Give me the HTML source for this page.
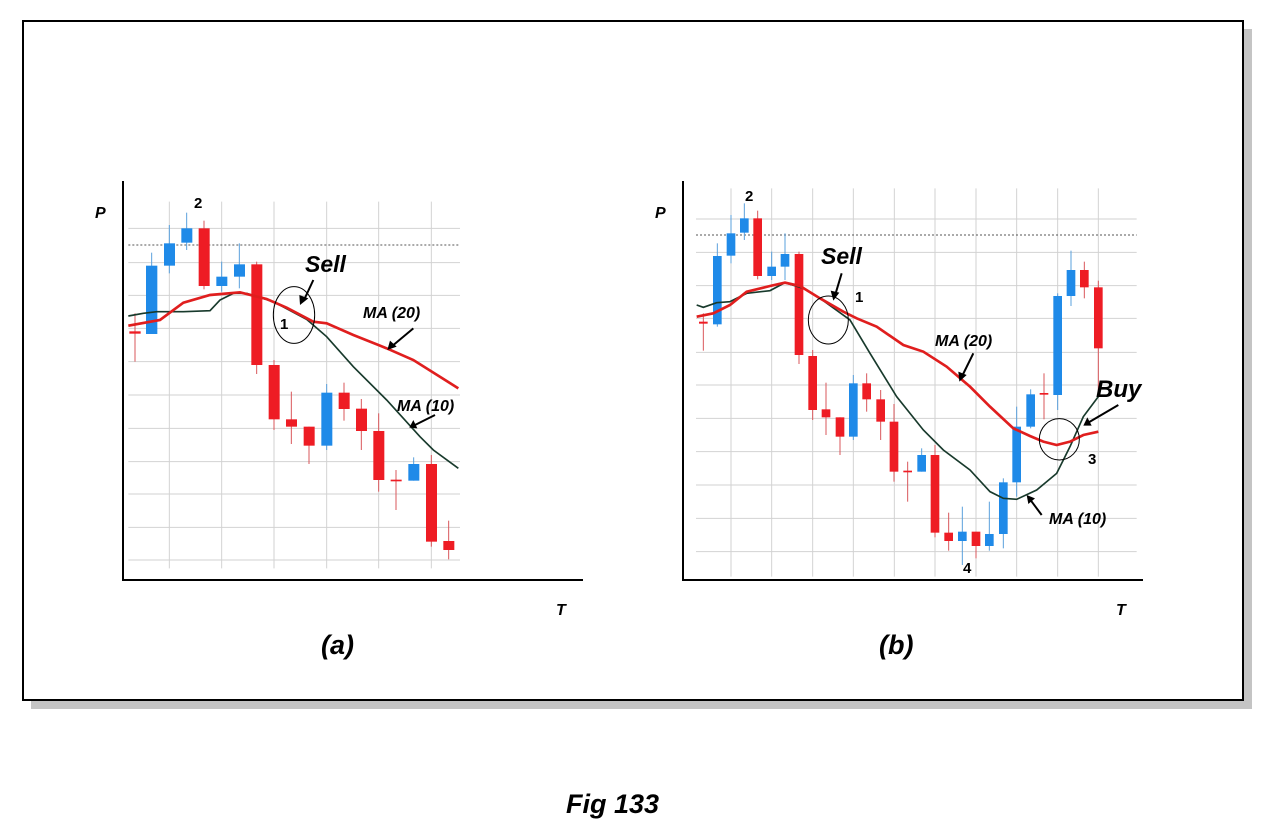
<!DOCTYPE html>
<html><head><meta charset="utf-8"><style>
html,body{margin:0;padding:0;background:#fff;}
body{width:1265px;height:831px;overflow:hidden;}
text{font-family:"Liberation Sans",Arial,sans-serif;font-weight:bold;}
</style></head><body>
<svg width="1265" height="831" viewBox="0 0 1265 831" xmlns="http://www.w3.org/2000/svg">
<rect x="31" y="29" width="1221" height="680" fill="#c4c4c4"/>
<rect x="23" y="21" width="1220" height="679" fill="#fff" stroke="#000" stroke-width="2"/>

<!-- Chart A -->
<g transform="translate(100,180) scale(0.33333)">
 <g stroke="#d2d2d2" stroke-width="3">
  <line x1="85" x2="1080" y1="145" y2="145"/><line x1="85" x2="1080" y1="248" y2="248"/><line x1="85" x2="1080" y1="346" y2="346"/><line x1="85" x2="1080" y1="445" y2="445"/><line x1="85" x2="1080" y1="545" y2="545"/><line x1="85" x2="1080" y1="645" y2="645"/><line x1="85" x2="1080" y1="745" y2="745"/><line x1="85" x2="1080" y1="845" y2="845"/><line x1="85" x2="1080" y1="942" y2="942"/><line x1="85" x2="1080" y1="1042" y2="1042"/><line x1="85" x2="1080" y1="1140" y2="1140"/>
  <line y1="65" y2="1165" x1="208" x2="208"/><line y1="65" y2="1165" x1="365" x2="365"/><line y1="65" y2="1165" x1="522" x2="522"/><line y1="65" y2="1165" x1="680" x2="680"/><line y1="65" y2="1165" x1="836" x2="836"/><line y1="65" y2="1165" x1="994" x2="994"/>
 </g>
 <line x1="85" x2="1080" y1="195" y2="195" stroke="#555" stroke-width="3" stroke-dasharray="6,6"/>
 <g stroke-width="3">
  <g stroke="#d9575b"><line x1="105" x2="105" y1="400" y2="545"/><line x1="312" x2="312" y1="122" y2="328"/><line x1="470" x2="470" y1="245" y2="582"/><line x1="522" x2="522" y1="540" y2="750"/><line x1="574" x2="574" y1="635" y2="792"/><line x1="627" x2="627" y1="740" y2="852"/><line x1="732" x2="732" y1="608" y2="722"/><line x1="784" x2="784" y1="657" y2="810"/><line x1="836" x2="836" y1="700" y2="935"/><line x1="888" x2="888" y1="870" y2="990"/><line x1="994" x2="994" y1="825" y2="1100"/><line x1="1046" x2="1046" y1="1022" y2="1138"/></g>
  <g stroke="#5aa0dc"><line x1="155" x2="155" y1="218" y2="462"/><line x1="208" x2="208" y1="135" y2="280"/><line x1="260" x2="260" y1="98" y2="210"/><line x1="365" x2="365" y1="245" y2="335"/><line x1="418" x2="418" y1="190" y2="325"/><line x1="680" x2="680" y1="612" y2="810"/><line x1="941" x2="941" y1="832" y2="902"/></g>
 </g>
 <g fill="#ee1c24">
  <rect x="88" y="454" width="34" height="7"/><rect x="296" y="145" width="33" height="173"/><rect x="454" y="253" width="33" height="302"/><rect x="506" y="555" width="33" height="163"/><rect x="558" y="718" width="33" height="22"/><rect x="611" y="740" width="33" height="57"/><rect x="716" y="638" width="33" height="49"/><rect x="768" y="686" width="33" height="67"/><rect x="820" y="753" width="33" height="147"/><rect x="872" y="899" width="33" height="5"/><rect x="978" y="852" width="33" height="233"/><rect x="1030" y="1083" width="33" height="27"/>
 </g>
 <g fill="#1f8ae8">
  <rect x="138" y="257" width="34" height="205"/><rect x="192" y="190" width="33" height="67"/><rect x="244" y="145" width="33" height="43"/><rect x="349" y="290" width="33" height="28"/><rect x="402" y="253" width="33" height="37"/><rect x="664" y="638" width="33" height="159"/><rect x="925" y="852" width="33" height="50"/>
 </g>
 <polyline fill="none" stroke="#183a2c" stroke-width="5" points="85,408 130,400 170,395 250,395 330,392 360,360 400,340 440,340 520,365 620,418 680,470 760,560 860,660 960,770 1000,810 1075,865"/>
 <polyline fill="none" stroke="#e01e1e" stroke-width="8" points="85,437 180,420 250,368 330,345 420,337 500,357 560,383 640,425 680,430 760,465 860,505 940,540 1075,625"/>
 <ellipse cx="582" cy="405" rx="62" ry="85" fill="none" stroke="#000" stroke-width="3"/>
 <line x1="640" y1="300" x2="612" y2="360" stroke="#000" stroke-width="6"/><polygon points="600,375 598,345 625,355" fill="#000"/>
 <line x1="940" y1="445" x2="878" y2="497" stroke="#000" stroke-width="6"/><polygon points="862,510 870,482 890,500" fill="#000"/>
 <line x1="1005" y1="705" x2="945" y2="735" stroke="#000" stroke-width="6"/><polygon points="928,743 940,720 952,745" fill="#000"/>
</g>
<line x1="123" y1="181" x2="123" y2="581" stroke="#000" stroke-width="2"/>
<line x1="122" y1="580" x2="583" y2="580" stroke="#000" stroke-width="2"/>
<text x="95" y="218" font-size="16" font-style="italic">P</text>
<text x="556" y="615" font-size="16" font-style="italic">T</text>
<text x="194" y="208" font-size="15">2</text>
<text x="280" y="329" font-size="15">1</text>
<text x="305" y="272" font-size="23" font-style="italic">Sell</text>
<text x="363" y="318" font-size="16" font-style="italic">MA (20)</text>
<text x="397" y="411" font-size="16" font-style="italic">MA (10)</text>
<text x="321" y="654" font-size="27" font-style="italic">(a)</text>

<!-- Chart B -->
<g transform="translate(670,180) scale(0.33333)">
 <g stroke="#d2d2d2" stroke-width="3">
  <line x1="78" x2="1400" y1="117" y2="117"/><line x1="78" x2="1400" y1="217" y2="217"/><line x1="78" x2="1400" y1="317" y2="317"/><line x1="78" x2="1400" y1="415" y2="415"/><line x1="78" x2="1400" y1="517" y2="517"/><line x1="78" x2="1400" y1="615" y2="615"/><line x1="78" x2="1400" y1="715" y2="715"/><line x1="78" x2="1400" y1="815" y2="815"/><line x1="78" x2="1400" y1="915" y2="915"/><line x1="78" x2="1400" y1="1015" y2="1015"/><line x1="78" x2="1400" y1="1115" y2="1115"/>
  <line y1="25" y2="1190" x1="183" x2="183"/><line y1="25" y2="1190" x1="305" x2="305"/><line y1="25" y2="1190" x1="428" x2="428"/><line y1="25" y2="1190" x1="550" x2="550"/><line y1="25" y2="1190" x1="673" x2="673"/><line y1="25" y2="1190" x1="795" x2="795"/><line y1="25" y2="1190" x1="918" x2="918"/><line y1="25" y2="1190" x1="1040" x2="1040"/><line y1="25" y2="1190" x1="1163" x2="1163"/><line y1="25" y2="1190" x1="1285" x2="1285"/>
 </g>
 <line x1="78" x2="1400" y1="165" y2="165" stroke="#555" stroke-width="3" stroke-dasharray="6,6"/>
 <g stroke-width="3">
  <g stroke="#d9575b"><line x1="100" x2="100" y1="400" y2="512"/><line x1="263" x2="263" y1="92" y2="298"/><line x1="387" x2="387" y1="215" y2="552"/><line x1="428" x2="428" y1="510" y2="720"/><line x1="468" x2="468" y1="608" y2="765"/><line x1="510" x2="510" y1="712" y2="825"/><line x1="590" x2="590" y1="580" y2="695"/><line x1="632" x2="632" y1="630" y2="780"/><line x1="672" x2="672" y1="672" y2="905"/><line x1="713" x2="713" y1="845" y2="965"/><line x1="795" x2="795" y1="795" y2="1072"/><line x1="836" x2="836" y1="998" y2="1112"/><line x1="918" x2="918" y1="1055" y2="1135"/><line x1="1122" x2="1122" y1="580" y2="718"/><line x1="1243" x2="1243" y1="245" y2="355"/><line x1="1285" x2="1285" y1="302" y2="650"/></g>
  <g stroke="#5aa0dc"><line x1="142" x2="142" y1="190" y2="440"/><line x1="183" x2="183" y1="105" y2="250"/><line x1="223" x2="223" y1="70" y2="180"/><line x1="305" x2="305" y1="215" y2="300"/><line x1="345" x2="345" y1="160" y2="300"/><line x1="550" x2="550" y1="585" y2="780"/><line x1="755" x2="755" y1="805" y2="875"/><line x1="877" x2="877" y1="980" y2="1155"/><line x1="958" x2="958" y1="965" y2="1112"/><line x1="1000" x2="1000" y1="895" y2="1105"/><line x1="1040" x2="1040" y1="680" y2="950"/><line x1="1082" x2="1082" y1="628" y2="745"/><line x1="1163" x2="1163" y1="340" y2="690"/><line x1="1203" x2="1203" y1="212" y2="378"/></g>
 </g>
 <g fill="#ee1c24">
  <rect x="87" y="425" width="26" height="6"/><rect x="250" y="115" width="26" height="173"/><rect x="374" y="222" width="26" height="303"/><rect x="415" y="528" width="26" height="162"/><rect x="455" y="688" width="26" height="24"/><rect x="497" y="712" width="26" height="58"/><rect x="577" y="610" width="26" height="48"/><rect x="619" y="658" width="26" height="67"/><rect x="659" y="725" width="26" height="150"/><rect x="700" y="872" width="26" height="5"/><rect x="782" y="825" width="26" height="233"/><rect x="823" y="1058" width="26" height="25"/><rect x="905" y="1055" width="26" height="43"/><rect x="1109" y="639" width="26" height="5"/><rect x="1230" y="270" width="26" height="52"/><rect x="1272" y="322" width="26" height="183"/>
 </g>
 <g fill="#1f8ae8">
  <rect x="129" y="228" width="26" height="205"/><rect x="170" y="160" width="26" height="67"/><rect x="210" y="115" width="26" height="43"/><rect x="292" y="260" width="26" height="28"/><rect x="332" y="222" width="26" height="38"/><rect x="537" y="610" width="26" height="160"/><rect x="742" y="825" width="26" height="50"/><rect x="864" y="1055" width="26" height="28"/><rect x="945" y="1062" width="26" height="36"/><rect x="987" y="907" width="26" height="155"/><rect x="1027" y="740" width="26" height="167"/><rect x="1069" y="643" width="26" height="97"/><rect x="1150" y="348" width="26" height="297"/><rect x="1190" y="270" width="26" height="78"/>
 </g>
 <polyline fill="none" stroke="#183a2c" stroke-width="5" points="80,375 100,382 140,368 180,365 230,340 300,332 345,308 400,325 460,362 540,420 600,520 680,650 760,750 820,810 900,870 960,935 1000,955 1040,958 1100,930 1160,880 1200,800 1240,710 1285,650"/>
 <polyline fill="none" stroke="#e01e1e" stroke-width="8" points="80,410 130,400 180,375 230,335 300,318 345,308 390,318 450,355 520,395 560,415 620,440 700,495 760,515 830,560 900,620 960,680 1030,745 1080,768 1120,785 1160,795 1200,785 1240,765 1285,755"/>
 <ellipse cx="475" cy="420" rx="60" ry="72" fill="none" stroke="#000" stroke-width="3"/>
 <ellipse cx="1168" cy="778" rx="60" ry="62" fill="none" stroke="#000" stroke-width="3"/>
 <line x1="515" y1="280" x2="497" y2="340" stroke="#000" stroke-width="6"/><polygon points="490,362 482,332 508,338" fill="#000"/>
 <line x1="910" y1="520" x2="878" y2="585" stroke="#000" stroke-width="6"/><polygon points="868,605 865,575 890,585" fill="#000"/>
 <line x1="1345" y1="675" x2="1258" y2="726" stroke="#000" stroke-width="6"/><polygon points="1240,737 1252,712 1265,737" fill="#000"/>
 <line x1="1115" y1="1005" x2="1083" y2="962" stroke="#000" stroke-width="6"/><polygon points="1070,945 1095,955 1075,972" fill="#000"/>
</g>
<line x1="683" y1="181" x2="683" y2="581" stroke="#000" stroke-width="2"/>
<line x1="682" y1="580" x2="1143" y2="580" stroke="#000" stroke-width="2"/>
<text x="655" y="218" font-size="16" font-style="italic">P</text>
<text x="1116" y="615" font-size="16" font-style="italic">T</text>
<text x="745" y="201" font-size="15">2</text>
<text x="855" y="302" font-size="15">1</text>
<text x="1088" y="464" font-size="15">3</text>
<text x="963" y="573" font-size="15">4</text>
<text x="821" y="264" font-size="23" font-style="italic">Sell</text>
<text x="1096" y="397" font-size="24" font-style="italic">Buy</text>
<text x="935" y="346" font-size="16" font-style="italic">MA (20)</text>
<text x="1049" y="524" font-size="16" font-style="italic">MA (10)</text>
<text x="879" y="654" font-size="27" font-style="italic">(b)</text>

<text x="566" y="813" font-size="27" font-style="italic">Fig 133</text>
</svg>
</body></html>
